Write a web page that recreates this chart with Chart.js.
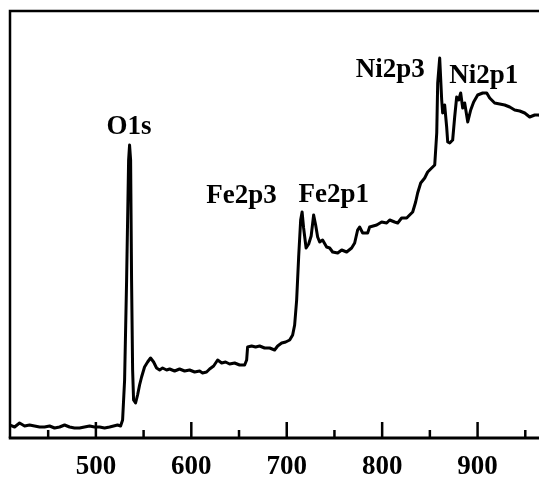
<!DOCTYPE html>
<html>
<head>
<meta charset="utf-8">
<script src="https://cdn.jsdelivr.net/npm/chart.js@4/dist/chart.umd.min.js"></script>
<style>
  html, body { margin: 0; padding: 0; overflow: hidden; background: #ffffff; }
  #wrap { width: 573px; height: 480px; overflow: hidden; }
  canvas { display: block; }
</style>
</head>
<body>
<div id="wrap"><canvas id="c" width="573" height="497"></canvas></div>
<script>
// Survey spectrum: binding energy (eV) and intensity (a.u.)
const bindingEnergy = [
  409.5, 414.8, 420.0, 425.3, 430.5, 435.7, 441.0, 446.2, 451.5, 456.7,
  462.0, 467.2, 472.4, 477.6, 482.9, 488.1, 493.4, 498.6, 503.9, 509.1,
  514.4, 522.7, 525.9, 528.0, 530.1, 532.2, 534.3, 535.3, 536.4, 537.4,
  538.5, 539.5, 541.6, 543.7, 545.8, 547.9, 551.0, 554.2, 557.3, 560.5,
  563.6, 566.8, 569.9, 574.1, 577.3, 582.5, 587.7, 593.0, 598.2, 603.5,
  608.7, 611.8, 616.0, 619.2, 623.4, 627.6, 631.8, 635.9, 640.1, 645.4,
  650.6, 655.9, 658.0, 659.0, 663.2, 667.4, 671.6, 676.8, 682.1, 687.3,
  690.5, 694.7, 698.9, 703.1, 706.2, 708.3, 710.4, 712.5, 714.6, 716.1,
  717.7, 720.3, 723.0, 725.6, 728.2, 730.3, 732.4, 734.5, 737.6, 741.8,
  745.0, 748.1, 753.4, 757.6, 762.8, 768.0, 771.2, 774.3, 776.4, 779.6,
  784.8, 786.9, 794.3, 799.5, 804.7, 807.9, 813.1, 816.3, 820.4, 825.7,
  828.8, 832.0, 835.1, 837.2, 840.4, 844.6, 847.7, 851.9, 855.1, 857.2,
  858.2, 860.3, 862.4, 863.4, 865.5, 867.6, 868.7, 870.8, 873.9, 876.0,
  878.1, 880.2, 882.3, 884.4, 886.5, 889.7, 892.8, 895.9, 900.1, 905.4,
  909.6, 912.7, 917.9, 923.2, 928.4, 933.7, 938.9, 944.2, 949.4, 954.6,
  959.9, 964.1, 970.0
];
const intensity = [
  13, 11, 15, 12, 13, 12, 11, 11, 12, 10,
  11, 13, 11, 10, 10, 11, 12, 11, 11, 10,
  11, 13, 12, 18, 58, 158, 278, 293, 278, 158,
  68, 38, 35, 43, 53, 61, 71, 76, 80, 76,
  70, 68, 70, 68, 69, 67, 69, 67, 68, 66,
  67, 65, 66, 69, 72, 78, 75, 76, 74, 75,
  73, 73, 78, 91, 92, 91, 92, 90, 90, 88,
  92, 95, 96, 98, 103, 113, 138, 181, 218, 226,
  210, 190, 194, 202, 223, 213, 201, 196, 198, 191,
  190, 186, 185, 188, 186, 190, 195, 208, 211, 205,
  205, 211, 213, 216, 215, 218, 216, 215, 220, 220,
  223, 226, 236, 245, 255, 260, 266, 270, 273, 305,
  355, 380, 338, 325, 333, 311, 296, 295, 298, 321,
  341, 338, 345, 330, 335, 316, 328, 336, 343, 345,
  345, 340, 335, 334, 333, 331, 328, 327, 325, 321,
  323, 323, 321
];

// Axis ticks (eV); only the hundreds carry a label
const tickValues = [450, 500, 550, 600, 650, 700, 750, 800, 850, 900, 950];
const labeledTicks = [500, 600, 700, 800, 900];

// Peak names and where they sit (eV, intensity of the text baseline)
const peakNames = ['O1s', 'Fe2p3', 'Fe2p1', 'Ni2p3', 'Ni2p1'];
const peakLabelX = [534.8, 652.7, 749.2, 808.4, 906.4];
const peakLabelY = [304, 235, 236, 361, 355];

const serif = "'Liberation Serif', 'Times New Roman', serif";

// Frame, inward tick marks and peak names
const framePlugin = {
  id: 'frame',
  afterDraw(chart) {
    const { ctx, chartArea: a, scales } = chart;
    const xs = scales.x, ys = scales.y;
    ctx.save();
    ctx.strokeStyle = '#000';
    ctx.lineCap = 'butt';
    // box
    ctx.lineWidth = 2.5;
    ctx.beginPath();
    ctx.moveTo(a.left, a.bottom);
    ctx.lineTo(a.left, a.top);
    ctx.lineTo(a.right, a.top);
    ctx.lineTo(a.right, a.bottom);
    ctx.stroke();
    ctx.lineWidth = 3;
    ctx.beginPath();
    ctx.moveTo(a.left - 1.25, a.bottom);
    ctx.lineTo(a.right, a.bottom);
    ctx.stroke();
    // tick marks pointing into the plot
    ctx.lineWidth = 2.5;
    tickValues.forEach(v => {
      const px = xs.getPixelForValue(v);
      const len = labeledTicks.includes(v) ? 16 : 8;
      ctx.beginPath();
      ctx.moveTo(px, a.bottom);
      ctx.lineTo(px, a.bottom - len);
      ctx.stroke();
    });
    // peak names
    ctx.fillStyle = '#000';
    ctx.font = 'bold 27px ' + serif;
    ctx.textAlign = 'center';
    ctx.textBaseline = 'alphabetic';
    peakNames.forEach((name, i) => {
      ctx.fillText(name, xs.getPixelForValue(peakLabelX[i]), ys.getPixelForValue(peakLabelY[i]));
    });
    ctx.restore();
  }
};

new Chart(document.getElementById('c'), {
  type: 'line',
  data: {
    labels: bindingEnergy,
    datasets: [{
      data: bindingEnergy.map((e, i) => ({ x: e, y: intensity[i] })),
      borderColor: '#000',
      borderWidth: 3,
      pointRadius: 0,
      tension: 0,
      fill: false,
      borderJoinStyle: 'round'
    }]
  },
  options: {
    responsive: false,
    animation: false,
    devicePixelRatio: 1,
    layout: { padding: { top: 11, left: 10, right: 0, bottom: 0 } },
    plugins: { legend: { display: false }, tooltip: { enabled: false } },
    scales: {
      x: {
        type: 'linear',
        min: 410,
        max: 1000,
        afterBuildTicks(scale) {
          scale.ticks = tickValues.map(v => ({ value: v }));
        },
        grid: { display: false, drawTicks: false },
        border: { display: false },
        ticks: {
          autoSkip: false,
          maxRotation: 0,
          padding: 17,
          color: '#000',
          font: { family: serif, size: 27, weight: 'bold', lineHeight: 0.926 },
          callback: v => (labeledTicks.includes(v) ? String(v) : '')
        }
      },
      y: {
        display: false,
        min: 0,
        max: 427
      }
    }
  },
  plugins: [framePlugin]
});
</script>
</body>
</html>
